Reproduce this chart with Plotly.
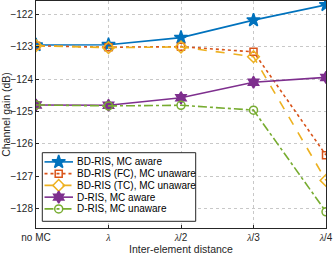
import plotly.graph_objects as go

x_labels = ["no MC", "λ", "λ/2", "λ/3", "λ/4"]
x_pos = [0, 1, 2, 3, 4]

bd_aware = [-122.95, -122.94, -122.72, -122.18, -121.71]
bd_fc_unaware = [-122.97, -123.02, -123.0, -123.16, -126.35]
bd_tc_unaware = [-122.97, -123.03, -123.01, -123.31, -127.13]
d_aware = [-124.80, -124.81, -124.58, -124.10, -123.95]
d_unaware = [-124.80, -124.83, -124.81, -124.96, -128.10]

names = ["BD-RIS, MC aware", "BD-RIS (FC), MC unaware", "BD-RIS (TC), MC unaware",
         "D-RIS, MC aware", "D-RIS, MC unaware"]
values = [bd_aware, bd_fc_unaware, bd_tc_unaware, d_aware, d_unaware]
colors = ["#0072BD", "#D95319", "#EDB120", "#7E2F8E", "#77AC30"]
dashes = ["solid", "dot", "dash", "solid", "dashdot"]
symbols = ["star", "square-open", "diamond-open", "hexagram", "circle-open"]
sizes = [10, 7, 9, 9, 8]

fig = go.Figure()
for name, vals, color, dash, sym, size in zip(names, values, colors, dashes, symbols, sizes):
    fig.add_trace(go.Scatter(
        x=x_pos, y=vals, name=name, mode="lines+markers", showlegend=False,
        line=dict(color=color, width=1.6, dash=dash),
        marker=dict(symbol=sym, size=size, color=color,
                    line=dict(color=color, width=1.5)),
    ))

# Custom legend drawn in an overlay axis measured in pixels from the plot's top-left
PW, PH = 290, 227
bx0, bx1, by0, by1 = 6.3, 159.7, 151.7, 220.3
fig.add_trace(go.Scatter(
    x=[bx0, bx1, bx1, bx0, bx0], y=[by0, by0, by1, by1, by0],
    mode="lines", fill="toself", fillcolor="white",
    line=dict(color="#262626", width=1), showlegend=False, hoverinfo="skip",
    xaxis="x2", yaxis="y2",
))
for i, (name, color, dash, sym, size) in enumerate(zip(names, colors, dashes, symbols, sizes)):
    yy = by0 + 9.2 + i * 11.75
    fig.add_trace(go.Scatter(
        x=[8.5, 37], y=[yy, yy], mode="lines",
        line=dict(color=color, width=1.6, dash=dash),
        showlegend=False, hoverinfo="skip", xaxis="x2", yaxis="y2",
    ))
    fig.add_trace(go.Scatter(
        x=[22.7], y=[yy], mode="markers",
        marker=dict(symbol=sym, size=size, color=color, line=dict(color=color, width=1.5)),
        showlegend=False, hoverinfo="skip", xaxis="x2", yaxis="y2",
    ))
    fig.add_annotation(x=39, y=yy, xref="x2", yref="y2", text=name, showarrow=False,
                       xanchor="left", yanchor="middle",
                       font=dict(size=10, color="#000"))

tick_text = []
for t in x_labels:
    if "λ" in t:
        tick_text.append(t.replace("λ", "<span style='font-family:Liberation Serif'><i>λ</i></span>"))
    else:
        tick_text.append(t)

axis_common = dict(
    showline=True, linecolor="#262626", linewidth=1, mirror=True,
    showgrid=True, gridcolor="#c8c8c8", griddash="dot", gridwidth=1,
    ticks="inside", ticklen=3, tickcolor="#262626",
    zeroline=False, tickfont=dict(size=10, color="#262626"),
)

fig.update_layout(
    width=333, height=258,
    margin=dict(l=36, r=7, t=1, b=30, autoexpand=False),
    paper_bgcolor="white", plot_bgcolor="white",
    font=dict(family="Liberation Sans, Arial, sans-serif", size=10, color="#262626"),
    xaxis=dict(range=[0, 4], tickvals=x_pos, ticktext=tick_text,
               title=dict(text="Inter-element distance", font=dict(size=10.5), standoff=3),
               **axis_common),
    yaxis=dict(range=[-128.6, -121.59], tickvals=[-128, -127, -126, -125, -124, -123, -122],
               title=dict(text="Channel gain (dB)", font=dict(size=10.5), standoff=2),
               **axis_common),
    xaxis2=dict(overlaying="x", range=[0, PW], visible=False, fixedrange=True),
    yaxis2=dict(overlaying="y", range=[PH, 0], visible=False, fixedrange=True),
    showlegend=False,
)

fig.write_html("out.html", config={"displayModeBar": False},
               post_script="document.body.style.margin='0';document.body.style.padding='0';")
